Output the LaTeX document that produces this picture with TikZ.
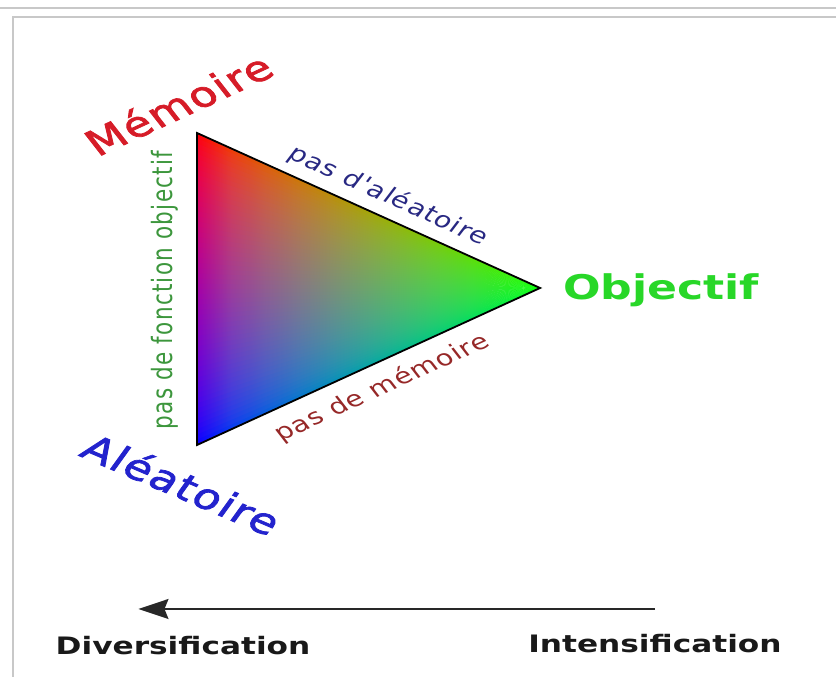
\documentclass[tikz,border=0pt]{standalone}
\usepackage{fontspec}
\setmainfont{DejaVu Sans}
\newfontfamily\bigspaced[LetterSpace=4,FakeBold=2]{DejaVu Sans}
\newfontfamily\smallspaced[LetterSpace=4]{DejaVu Sans}
\newfontfamily\sidespaced[LetterSpace=6]{DejaVu Sans}
\usetikzlibrary{arrows.meta}
\definecolor{memred}{RGB}{214,28,40}
\definecolor{alblue}{RGB}{35,35,205}
\definecolor{objgreen}{RGB}{40,215,40}
\definecolor{navylbl}{RGB}{40,40,130}
\definecolor{brownlbl}{RGB}{150,40,40}
\definecolor{greenlbl}{RGB}{60,150,60}
\definecolor{framegray}{RGB}{200,200,200}
\definecolor{arrowgray}{RGB}{40,40,40}
\tikzset{
  lbl/.style={inner sep=0pt, transform shape},
  bigtxt/.style={lbl, font=\bigspaced\fontsize{35}{42}\selectfont},
  edgetxt/.style={lbl, font=\smallspaced\fontsize{22}{26}\selectfont},
  sidetxt/.style={lbl, font=\sidespaced\fontsize{21.5}{25}\selectfont},
  boldtxt/.style={lbl, font=\bfseries\fontsize{24}{29}\selectfont, anchor=base},
  framestyle/.style={draw=framegray, line width=1.6pt},
}
\begin{document}
\begin{tikzpicture}[x=1pt,y=1pt,xscale=1.3]
\useasboundingbox (0,0) rectangle (643.08,677);
% frame
\coordinate (f1) at (0,669);
\coordinate (f2) at (643.08,669);
\coordinate (f3) at (10,660);
\coordinate (f4) at (643.08,660);
\coordinate (f5) at (10,0);
\draw[framestyle] (f1) -- (f2);
\draw[framestyle] (f4) -- (f3) -- (f5);
% triangle vertices
\coordinate (A) at (151.54,544);
\coordinate (B) at (151.54,232);
\coordinate (C) at (415.38,389);
% barycentric colour fill as a fan of shaded slices (gamma-softened mixing)
\foreach \i in {0,...,59}{
  \pgfmathsetmacro\ta{\i/60}
  \pgfmathsetmacro\tb{min((\i+1.6)/60,1)}
  \pgfmathsetmacro\tm{(\i+0.5)/60}
  \pgfmathsetmacro\rz{max(1-\tm,0.00001)^0.625}
  \pgfmathsetmacro\bz{max(\tm,0.00001)^0.625}
  \xdef\stops{rgb(0bp)=(\rz,0,\bz)}
  \foreach \k in {0,...,10}{
    \pgfmathsetmacro\gf{\k/10}
    \pgfmathsetmacro\rr{max((1-\gf)*(1-\tm),0.00001)^0.625}
    \pgfmathsetmacro\bb{max((1-\gf)*\tm,0.00001)^0.625}
    \pgfmathsetmacro\gg{max(\gf,0.00001)^0.625}
    \pgfmathsetmacro\pos{25+5*\k}
    \xdef\stops{\stops; rgb(\pos bp)=(\rr,\gg,\bb)}
  }
  \xdef\stops{\stops; rgb(100bp)=(0,1,0)}
  \edef\dodecl{\noexpand\pgfdeclarehorizontalshading{slice\i}{100bp}{\stops}}
  \dodecl
  \shade[shading=slice\i]
    (151.54,{544-312*\ta}) -- (151.54,{544-312*\tb}) -- (C) -- cycle;
}
\draw[black, line width=1.8pt, line join=miter] (A) -- (B) -- (C) -- cycle;
% corner labels
\node[bigtxt, text=memred, rotate=31] (mem) at (137,573) {Mémoire};
\node[bigtxt, text=alblue, rotate=-29] (ale) at (140,193) {Aléatoire};
\node[lbl, text=objgreen, font=\bfseries\fontsize{34}{40}\selectfont] (obj) at (508.5,387) {Objectif};
% edge labels
\node[edgetxt, text=navylbl, rotate=-30.4] (pda) at (298.5,481) {pas d'aléatoire};
\node[edgetxt, text=brownlbl, rotate=30.75] (pdm) at (293.8,289) {pas de mémoire};
\node[sidetxt, text=greenlbl, rotate=90] (pdf) at (126.9,387) {pas de fonction objectif};
% axis
\coordinate (ar1) at (503.8,68);
\coordinate (ar2) at (106.5,68);
\draw[arrowgray, line width=1.6pt, -{Stealth[length=30pt,width=20pt,inset=4pt]}] (ar1) -- (ar2);
\node[boldtxt, text=black!90] (div) at (140.8,22) {Diversification};
\node[boldtxt, text=black!90] (int) at (503.8,24) {Intensification};
\end{tikzpicture}
\end{document}
